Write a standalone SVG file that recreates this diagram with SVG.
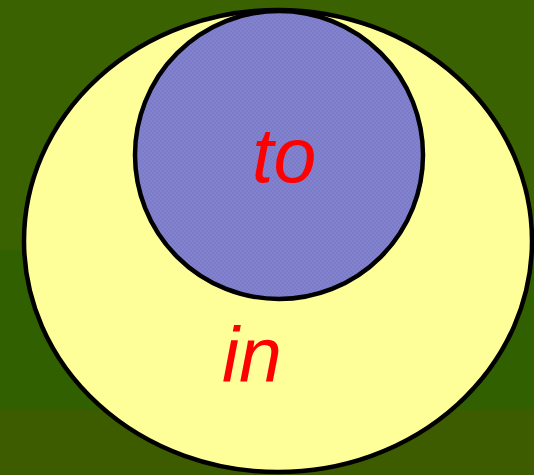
<svg xmlns="http://www.w3.org/2000/svg" width="534" height="475" viewBox="0 0 534 475">
<defs>
<pattern id="chk" width="4" height="4" patternUnits="userSpaceOnUse">
<rect width="4" height="4" fill="#8282cf"/>
<rect width="2" height="2" fill="#7b7bc8"/>
<rect x="2" y="2" width="2" height="2" fill="#7b7bc8"/>
</pattern>
</defs>
<style>
.lbl{font-family:"Liberation Sans",Arial,sans-serif;font-style:italic;font-size:77px;fill:#ff0000}
.sh{stroke:#000;stroke-width:4.5}
</style>
<g id="background">
<rect x="0" y="0" width="534" height="250" fill="#3a6200"/>
<rect x="0" y="250" width="534" height="160" fill="#306000"/>
<rect x="0" y="410" width="534" height="65" fill="#3d5c00"/>
</g>
<g id="node-in">
<ellipse class="sh" cx="278" cy="241" rx="254" ry="231" fill="#ffff99"/>
<text class="lbl" x="222" y="382">in</text>
</g>
<g id="node-to">
<circle class="sh" cx="279" cy="155" r="144" fill="url(#chk)"/>
<text class="lbl" x="252" y="182">to</text>
</g>
<g id="connectors"/>
</svg>
